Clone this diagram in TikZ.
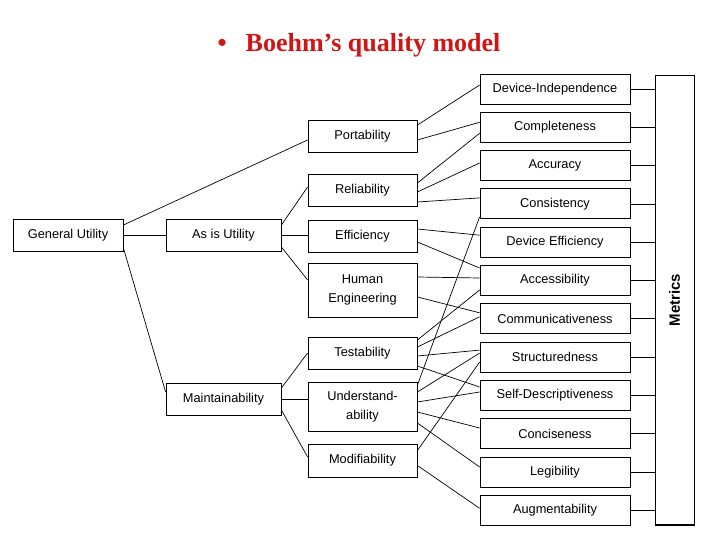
\documentclass[tikz,border=0pt]{standalone}
\usepackage{fontspec}
\setmainfont{Liberation Serif}
\newfontfamily\boxfont{Liberation Sans}
\usepackage{xcolor}
\usetikzlibrary{positioning}
\definecolor{titlered}{HTML}{D21414}

\begin{document}
\begin{tikzpicture}[
  x=1pt, y=-1pt,
  node distance = 7.5pt,
  qbox/.style = {
    rectangle, draw=black, line width=0.8pt,
    inner sep=0pt, align=center,
    font=\boxfont\fontsize{12.8}{19}\selectfont
  },
  tree/.style = {qbox, minimum width=109pt, minimum height=32pt},
  prim/.style = {qbox, minimum width=150pt, minimum height=30pt},
  link/.style = {line width=0.7pt, color=black}
]
  \useasboundingbox (0,0) rectangle (720,540);

  \node[anchor=base, text=titlered, font=\bfseries\fontsize{26}{30}\selectfont]
    (title) at (359,52) {\textbullet\hspace{19pt}Boehm’s quality model};

  % utility tree
  \node[tree, minimum width=110pt] (gu)    at (68,235)    {General Utility};
  \node[tree, minimum width=115pt] (asis)  at (223.5,235) {As is Utility};
  \node[tree, minimum width=115pt] (maint) at (223.5,399) {Maintainability};

  \node[tree] (port) at (362.5,136) {Portability};
  \node[tree] (rel)  at (362.5,190) {Reliability};
  \node[tree] (eff)  at (362.5,236) {Efficiency};
  \node[tree, minimum height=54pt] (hum)  at (362.5,290)   {Human\\Engineering};
  \node[tree] (test) at (362.5,353) {Testability};
  \node[tree, minimum height=49pt] (und)  at (362.5,407)   {Understand-\\ability};
  \node[tree, minimum height=33pt] (mod)  at (362.5,460.5) {Modifiability};

  % primitive characteristics
  \node[prim] (di) at (555,89) {Device-Independence};
  \node[prim, below=of di]     (comp)   {Completeness};
  \node[prim, below=of comp]   (acc)    {Accuracy};
  \node[prim, below=of acc]    (cons)   {Consistency};
  \node[prim, below=of cons]   (deveff) {Device Efficiency};
  \node[prim, below=of deveff] (access) {Accessibility};
  \node[prim, below=of access] (comm)   {Communicativeness};
  \node[prim, below=of comm]   (struct) {Structuredness};
  \node[prim, below=of struct] (selfd)  {Self-Descriptiveness};
  \node[prim, below=of selfd]  (conc)   {Conciseness};
  \node[prim, below=of conc]   (leg)    {Legibility};
  \node[prim, below=of leg]    (aug)    {Augmentability};

  \node[draw, line width=0.8pt, inner sep=0pt, minimum width=39pt, minimum height=450pt,
    font=\boxfont\bfseries\fontsize{15}{18}\selectfont]
    (metrics) at (674.5,300) {\rotatebox{90}{Metrics}};
  \draw[line width=2pt] (metrics.south west) -- (metrics.south east);

  % tree links
  \draw[link] ([yshift=10pt]gu.east)  -- ([yshift=-4pt]port.west);
  \draw[link] (gu.east) -- (asis.west);
  \draw[link] ([yshift=-13pt]gu.east) -- ([yshift=7pt]maint.west);
  \draw[link] ([yshift=10pt]asis.east) -- ([yshift=3pt]rel.west);
  \draw[link] (asis.east) -- (asis.east -| eff.west);
  \draw[link] ([yshift=-12pt]asis.east) -- ([yshift=10pt]hum.west);
  \draw[link] ([yshift=11pt]maint.east) -- (test.west);
  \draw[link] (maint.east) -- (maint.east -| und.west);
  \draw[link] ([yshift=-11pt]maint.east) -- ([yshift=3.5pt]mod.west);

  % links to primitives
  \draw[link] ([yshift=11pt]port.east) -- ([yshift=4pt]di.west);
  \draw[link] ([yshift=-4pt]port.east) -- ([yshift=5pt]comp.west);
  \draw[link] ([yshift=7pt]rel.east)   -- ([yshift=-6pt]comp.west);
  \draw[link] ([yshift=-2pt]rel.east)  -- ([yshift=2.6pt]acc.west);
  \draw[link] ([yshift=-12pt]rel.east) -- ([yshift=6pt]cons.west);
  \draw[link] ([yshift=7pt]eff.east)   -- ([yshift=7pt]deveff.west);
  \draw[link] ([yshift=-6pt]eff.east)  -- ([yshift=12.5pt]access.west);
  \draw[link] ([yshift=13pt]hum.east)  -- ([yshift=2.5pt]access.west);
  \draw[link] ([yshift=-7pt]hum.east)  -- ([yshift=6pt]comm.west);
  \draw[link] ([yshift=13pt]test.east) -- ([yshift=-9.5pt]access.west);
  \draw[link] ([yshift=6pt]test.east)  -- ([yshift=2pt]comm.west);
  \draw[link] ([yshift=-3pt]test.east) -- ([yshift=7pt]struct.west);
  \draw[link] ([yshift=-13pt]test.east) -- ([yshift=8.4pt]selfd.west);
  \draw[link] ([yshift=22pt]und.east)  -- ([yshift=-13pt]cons.west);
  \draw[link] ([yshift=15pt]und.east)  -- ([yshift=4pt]struct.west);
  \draw[link] ([yshift=5pt]und.east)   -- ([yshift=3.4pt]selfd.west);
  \draw[link] ([yshift=-5pt]und.east)  -- ([yshift=5.7pt]conc.west);
  \draw[link] ([yshift=-16pt]und.east) -- ([yshift=5pt]leg.west);
  \draw[link] ([yshift=10pt]mod.east)  -- ([yshift=-5pt]struct.west);
  \draw[link] ([yshift=-5pt]mod.east)  -- ([yshift=2pt]aug.west);

  % links to metrics
  \draw[link] (di.east) -- (di.east -| metrics.west)
    (comp.east) -- (comp.east -| metrics.west)
    (acc.east) -- (acc.east -| metrics.west)
    (cons.east) -- (cons.east -| metrics.west)
    (deveff.east) -- (deveff.east -| metrics.west)
    (access.east) -- (access.east -| metrics.west)
    (comm.east) -- (comm.east -| metrics.west)
    (struct.east) -- (struct.east -| metrics.west)
    (selfd.east) -- (selfd.east -| metrics.west)
    (conc.east) -- (conc.east -| metrics.west)
    (leg.east) -- (leg.east -| metrics.west)
    (aug.east) -- (aug.east -| metrics.west);
\end{tikzpicture}
\end{document}
